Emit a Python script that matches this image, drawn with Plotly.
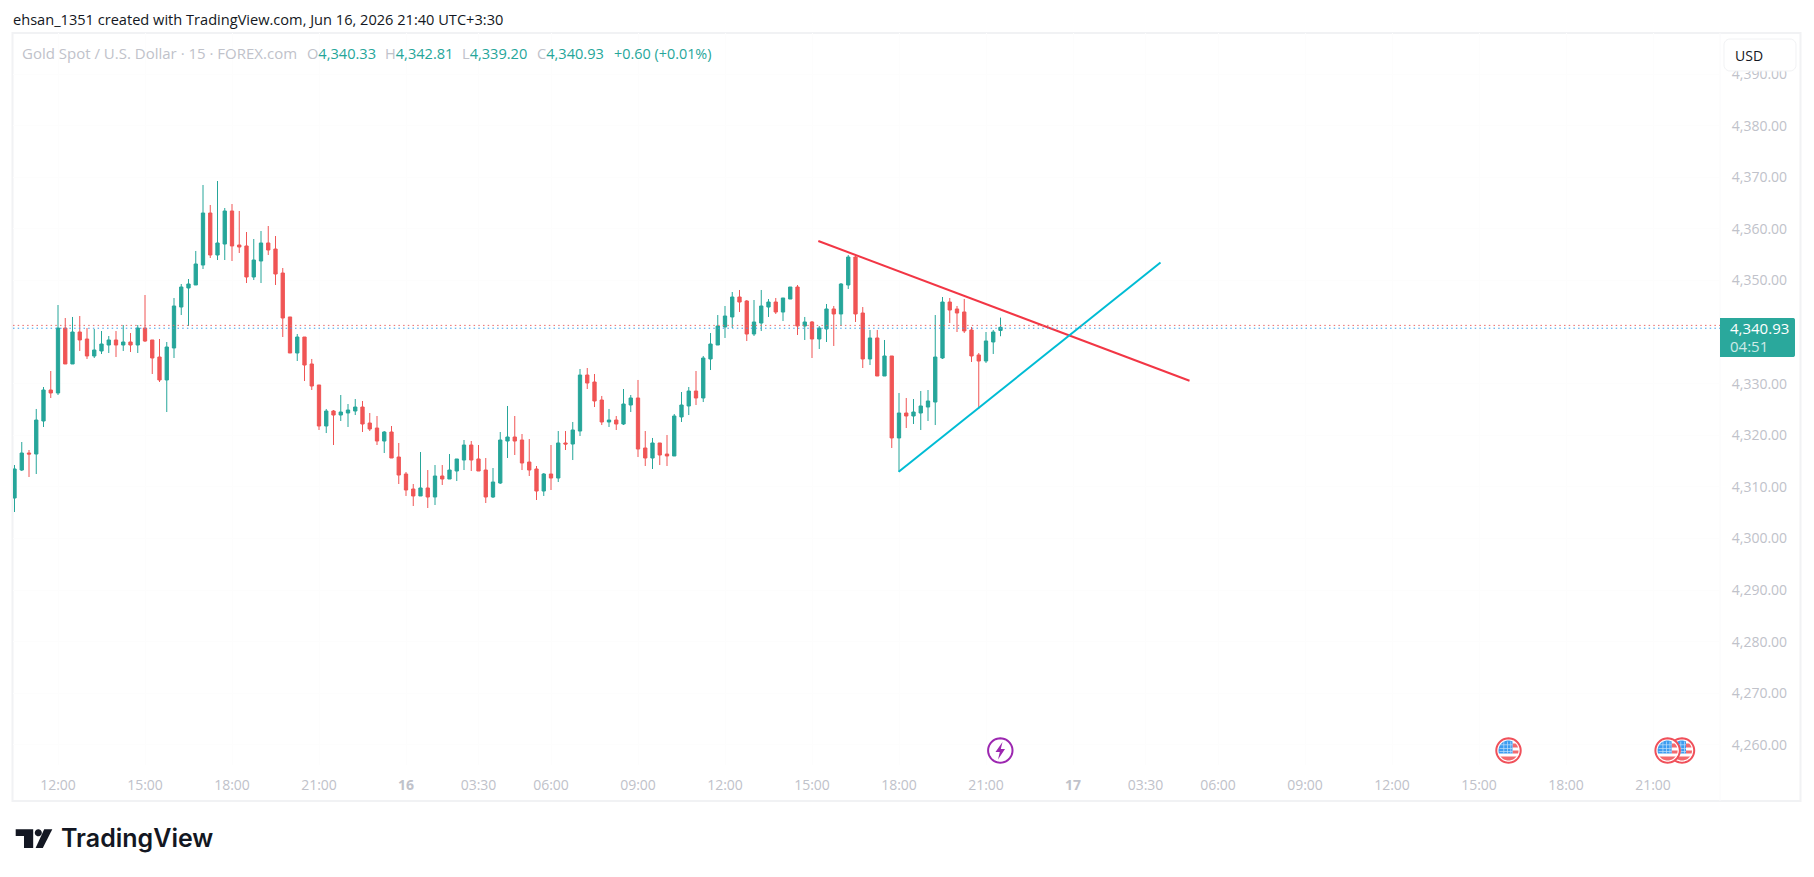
import numpy as np
import plotly.graph_objects as go

# ---------- data ----------
directions = list(
    "GGRGGRGRGR" "RGGGRGRGRR" "RGGGGGGRGG" "RRRGGRRRRG" "RRR"
    "GRGGGRRRGR" "RRRGRGRGGG" "RRRGGGRRRR" "GRGRGGRRRG" "RGGR"
    "RGRRGGGRGG" "GGGRRGGGRG" "GRGRGGRGGR" "RGRGRGRGGG" "GGRRRRRGGG"
)
highs = [4314.24,4318.70,4317.15,4325.10,4329.36,4332.46,4345.25,4342.73,4342.93,4343.12,
         4340.79,4340.60,4340.21,4339.24,4340.21,4341.37,4339.82,4341.37,4347.19,4338.47,
         4338.66,4338.08,4346.61,4349.32,4350.29,4355.72,4368.51,4364.63,4369.28,4364.05,
         4364.82,4363.47,4359.40,4358.04,4359.59,4360.56,4358.62,4352.42,4342.93,4339.63,
         4339.05,4334.79,4329.75,
         4325.10,4324.90,4327.81,4326.06,4327.03,4326.65,4324.32,4323.74,4320.83,4321.80,
         4318.51,4312.89,4310.56,4316.76,4313.27,4314.24,4314.24,4316.37,4315.41,4319.09,
         4318.89,4318.12,4315.60,4313.66,4320.64,4325.68,4323.74,4320.25,4319.28,4314.05,
         4312.69,4318.12,4320.83,4320.83,4322.58,4332.85,4333.04,4331.88,4327.62,4325.10,
         4323.74,4328.97,4327.81,4330.72,
         4320.83,4319.48,4318.51,4320.06,4324.13,4328.39,4329.36,4332.46,4335.37,4339.82,
         4343.31,4345.06,4347.77,4348.16,4346.22,4346.22,4348.16,4346.41,4346.61,4346.61,
         4348.74,4349.13,4342.93,4342.15,4341.18,4345.44,4345.06,4349.51,4354.94,4354.75,
         4344.86,4340.41,4340.41,4338.47,4335.37,4328.20,4327.23,4327.03,4328.58,4328.78,
         4343.31,4346.80,4346.61,4345.06,4346.42,4340.99,4335.95,4340.02,4340.41,4342.81]
body_tops = [4313.47,4316.57,4316.57,4322.96,4328.78,4328.78,4340.79,4340.79,4340.02,4340.02,
             4338.66,4336.53,4337.69,4338.47,4338.47,4338.08,4338.08,4340.79,4340.79,4338.47,
             4335.17,4337.11,4345.06,4348.74,4349.32,4353.20,4363.08,4363.08,4357.27,4363.47,
             4363.47,4356.88,4356.69,4353.97,4357.27,4357.27,4356.10,4351.45,4342.93,4339.05,
             4339.05,4333.82,4329.75,
             4324.71,4324.71,4324.51,4324.90,4325.48,4325.48,4322.38,4321.41,4320.64,4320.64,
             4315.79,4312.50,4309.59,4309.79,4309.79,4312.11,4312.11,4313.27,4315.41,4318.12,
             4318.12,4315.41,4313.27,4310.95,4319.09,4319.67,4319.67,4319.09,4314.82,4313.47,
             4312.50,4312.50,4318.51,4318.51,4321.03,4331.68,4331.68,4330.33,4326.84,4322.96,
             4322.96,4326.06,4327.23,4327.23,
             4317.54,4318.51,4318.51,4316.37,4323.74,4325.87,4328.58,4328.58,4334.98,4337.69,
             4341.18,4343.12,4346.80,4346.80,4346.03,4341.96,4345.06,4345.83,4345.83,4346.61,
             4348.74,4348.74,4341.96,4341.96,4340.79,4344.48,4344.48,4349.32,4354.55,4354.55,
             4343.70,4338.86,4338.86,4335.37,4335.37,4324.32,4324.32,4324.51,4325.68,4326.65,
             4335.17,4345.83,4345.83,4344.48,4343.90,4340.41,4335.57,4338.28,4340.02,4340.93]
body_bots = [4307.85,4313.27,4316.37,4316.37,4322.77,4328.20,4328.20,4333.82,4333.82,4338.47,
             4335.37,4335.37,4336.34,4337.50,4337.50,4337.50,4337.50,4337.50,4338.27,4334.98,
             4330.72,4330.72,4336.92,4344.86,4348.55,4349.13,4353.00,4354.94,4354.94,4357.07,
             4356.69,4356.49,4350.68,4350.68,4353.78,4355.91,4351.26,4342.73,4335.95,4335.95,
             4333.62,4329.55,4321.80,
             4321.80,4323.93,4323.93,4324.32,4324.71,4322.19,4321.22,4318.89,4318.89,4315.60,
             4312.30,4309.40,4308.24,4308.24,4308.04,4308.04,4311.53,4311.53,4313.08,4315.21,
             4315.21,4313.08,4308.04,4308.04,4310.75,4318.89,4318.89,4314.63,4313.27,4309.20,
             4309.20,4311.72,4311.72,4318.31,4318.31,4320.83,4330.13,4326.65,4322.58,4322.58,
             4322.19,4322.19,4325.87,4317.34,
             4315.60,4315.60,4316.18,4315.99,4315.99,4323.55,4325.68,4327.23,4327.23,4334.79,
             4337.50,4340.99,4342.93,4345.83,4339.63,4339.63,4341.76,4344.86,4343.89,4343.89,
             4346.41,4341.18,4341.18,4338.66,4338.66,4340.60,4343.51,4343.51,4349.13,4343.51,
             4334.79,4334.79,4331.49,4331.49,4319.48,4319.48,4323.74,4323.74,4324.32,4325.48,
             4326.45,4334.98,4344.28,4343.70,4340.22,4335.37,4334.40,4334.40,4338.09,4340.33]
lows = [4305.13,4313.08,4311.92,4312.50,4321.61,4327.23,4327.81,4333.82,4333.82,4336.34,
        4334.79,4334.98,4335.75,4335.95,4335.17,4336.34,4336.14,4335.95,4338.08,4331.88,
        4330.33,4324.51,4334.98,4343.31,4341.18,4349.13,4352.23,4354.36,4353.97,4353.97,
        4353.78,4355.33,4349.51,4350.10,4349.51,4354.94,4349.13,4339.05,4335.95,4334.40,
        4330.52,4328.78,4321.03,
        4320.44,4318.12,4322.77,4321.61,4323.93,4320.64,4320.83,4318.12,4316.57,4315.60,
        4310.56,4308.24,4306.30,4308.24,4305.91,4306.49,4310.37,4311.53,4311.14,4313.27,
        4313.08,4313.08,4306.88,4307.85,4310.56,4315.60,4316.18,4313.27,4312.11,4307.46,
        4308.24,4309.40,4310.95,4317.15,4315.21,4319.86,4328.97,4325.48,4321.99,4321.61,
        4321.03,4321.99,4324.51,4315.79,
        4314.05,4313.47,4314.24,4314.05,4315.99,4322.58,4323.93,4325.87,4326.45,4332.65,
        4337.50,4338.86,4340.79,4343.89,4338.27,4339.24,4340.21,4342.93,4343.51,4342.15,
        4346.41,4339.44,4338.47,4334.98,4336.72,4338.08,4337.31,4341.18,4348.35,4341.96,
        4333.04,4333.62,4331.49,4331.49,4317.54,4312.89,4321.41,4322.19,4321.03,4322.77,
        4321.99,4334.79,4341.76,4340.02,4339.83,4334.21,4325.10,4334.02,4335.76,4339.20]

bar_index = list(range(len(highs)))
opens = [b if d == "G" else t for d, t, b in zip(directions, body_tops, body_bots)]
closes = [t if d == "G" else b for d, t, b in zip(directions, body_tops, body_bots)]

time_tick_bars = [6, 18, 30, 42, 54, 64, 74, 86, 98, 110, 122, 134, 146, 156, 166, 178, 190, 202, 214, 226]
time_tick_text = ["12:00", "15:00", "18:00", "21:00", "<b>16</b>", "03:30", "06:00", "09:00", "12:00", "15:00",
                  "18:00", "21:00", "<b>17</b>", "03:30", "06:00", "09:00", "12:00", "15:00", "18:00", "21:00"]
# 4,340.00 sits behind the last-price tag in the reference, so it is not shown
price_ticks = [4260, 4270, 4280, 4290, 4300, 4310, 4320, 4330, 4350, 4360, 4370, 4380, 4390]

resistance_bars, resistance_prices = [110.87, 162.07], [4357.66, 4330.58]
support_bars, support_prices = [121.96, 158.07], [4312.95, 4353.47]
bid_price, ask_price = 4340.75, 4341.30

# ---------- layout helpers (pixels of the 1814x877 canvas) ----------
W, H = 1814, 877
L, R, T, B = 13, 1720, 33, 765
GREEN, RED = "#26a69a", "#f05555"
GREY = "#c0c2ca"
FONT = "Open Sans"


def px(x):
    return (x - L) / (R - L)


def py(y):
    return (B - y) / (B - T)


def poly(points):
    return "M" + " L".join(f"{px(x):.5f},{py(y):.5f}" for x, y in points) + " Z"


def rounded(x0, y0, x1, y1, r, corners=(1, 1, 1, 1)):
    pts = []
    centres = [(x1 - r, y0 + r, -90, corners[1]), (x1 - r, y1 - r, 0, corners[2]),
               (x0 + r, y1 - r, 90, corners[3]), (x0 + r, y0 + r, 180, corners[0])]
    ends = [(x1, y0), (x1, y1), (x0, y1), (x0, y0)]
    for (cx, cy, a, on), e in zip(centres, ends):
        if on:
            for t in np.radians(np.linspace(a, a + 90, 7)):
                pts.append((cx + r * np.cos(t), cy + r * np.sin(t)))
        else:
            pts.append(e)
    return pts


def disc(cx, cy, r):
    return [(cx + r * np.cos(t), cy + r * np.sin(t)) for t in np.linspace(0, 2 * np.pi, 48, endpoint=False)]


def clipped_rect(cx, cy, r, x0, y0, x1, y1):
    pts = []
    for a, b in [((x0, y0), (x1, y0)), ((x1, y0), (x1, y1)), ((x1, y1), (x0, y1)), ((x0, y1), (x0, y0))]:
        for t in np.linspace(0, 1, 14, endpoint=False):
            x = a[0] + (b[0] - a[0]) * t
            y = a[1] + (b[1] - a[1]) * t
            d = float(np.hypot(x, y))
            if d > r:
                x, y = x * r / d, y * r / d
            pts.append((cx + x, cy + y))
    return pts


shapes = []


def add_poly(points, fill, line=None, width=0, layer="above"):
    shapes.append(dict(type="path", path=poly(points), xref="paper", yref="paper", layer=layer,
                       fillcolor=fill, line=dict(color=line or fill, width=width)))


# outer frame and price-scale separator
shapes.append(dict(type="rect", xref="paper", yref="paper", x0=px(12.5), x1=px(1800.5), y0=py(33), y1=py(801),
                   line=dict(color="#f1f2f4", width=2), layer="below"))
shapes.append(dict(type="line", xref="paper", yref="paper", x0=1, x1=1, y0=py(33), y1=py(801),
                   line=dict(color="#fafafb", width=1), layer="below"))

# bid / ask dotted lines
for price, colour in [(ask_price, "#ea6a6a"), (bid_price, "#3f9fe8")]:
    shapes.append(dict(type="line", xref="paper", yref="y", x0=0, x1=1, y0=price, y1=price,
                       line=dict(color=colour, width=1, dash="1.5px,3.2px"), layer="above"))

# last price tag
add_poly(rounded(1720, 318, 1795, 357, 2, corners=(0, 1, 1, 0)), "#2aa89c")
# USD button (hides the top of the 4,390.00 label)
add_poly(rounded(1724, 39, 1796, 71, 6), "#ffffff", "#f1f2f4", 1)


def flag(cx, cy=750.5):
    add_poly(disc(cx, cy, 12.2), "#ffffff", "#f0505a", 2)
    for (x0, y0, x1, y1) in [(4, -7, 11, -3), (4, 0, 11, 3), (-11, 6, 11, 11)]:
        add_poly(clipped_rect(cx, cy, 10, x0, y0, x1, y1), "#f36a6f")
    add_poly(clipped_rect(cx, cy, 10, -11, -10, 4, 3), "#3c9cf0")
    for dx in (-5, -1.5, 2):
        add_poly([(cx + dx, cy - 9), (cx + dx + 0.7, cy - 9), (cx + dx + 0.7, cy + 3), (cx + dx, cy + 3)], "#bfe0fa")
    for dy in (-6, -2.5, 0.5):
        add_poly([(cx - 9, cy + dy), (cx + 4, cy + dy), (cx + 4, cy + dy + 0.7), (cx - 9, cy + dy + 0.7)], "#bfe0fa")


# economic event markers
add_poly(disc(1000.3, 750.5, 12.2), "#ffffff", "#9c27b0", 2)
add_poly([(1002.5, 742), (995.5, 752), (999.8, 752), (998, 759.5), (1005, 749), (1000.8, 749)], "#9c27b0")
flag(1508.5)
flag(1682)
flag(1667.6)

# TradingView logo
add_poly([(15.7, 829.3), (33.2, 829.3), (33.2, 848), (24, 848), (24, 836), (15.7, 836)], "#131722")
add_poly(disc(38.3, 832.8, 3.5), "#131722")
add_poly([(44.2, 829.3), (52.3, 829.3), (42.8, 848), (35.6, 848)], "#131722")

annotations = []


def label(x, y, text, colour, size=14, weight=None, family=FONT):
    annotations.append(dict(x=px(x), y=py(y), xref="paper", yref="paper", text=text, showarrow=False,
                            xanchor="left", yanchor="middle", borderpad=0, borderwidth=0,
                            font=dict(family=family, size=size, color=colour,
                                      **({"weight": weight} if weight else {}))))


label(13, 19, "ehsan_1351 created with TradingView.com, Jun 16, 2026 21:40 UTC+3:30", "#131722", 14.6)
label(22, 53, "Gold Spot / U.S. Dollar · 15 · FOREX.com", GREY, 15)
for x, head, value in [(307, "O", "4,340.33"), (385, "H", "4,342.81"), (462, "L", "4,339.20"), (537, "C", "4,340.93")]:
    label(x, 53, f'<span style="color:{GREY}">{head}</span>{value}', GREEN, 14.6)
label(614, 53, "+0.60 (+0.01%)", GREEN, 14.4)
label(1735, 55, "USD", "#131722", 14)
label(1730, 328, "4,340.93", "#ffffff", 15)
label(1730, 346, "04:51", "#cdeae7", 15)
label(61, 838, "TradingView", "#131722", 25, 600, "Inter")

fig = go.Figure()
fig.add_trace(go.Candlestick(
    x=bar_index, open=opens, high=highs, low=lows, close=closes,
    increasing=dict(line=dict(color=GREEN, width=1), fillcolor=GREEN),
    decreasing=dict(line=dict(color=RED, width=1), fillcolor=RED),
    whiskerwidth=0, showlegend=False, name="XAUUSD",
))
fig.add_trace(go.Scatter(x=resistance_bars, y=resistance_prices, mode="lines", showlegend=False,
                         line=dict(color="#f23645", width=2), hoverinfo="skip"))
fig.add_trace(go.Scatter(x=support_bars, y=support_prices, mode="lines", showlegend=False,
                         line=dict(color="#00bcd4", width=2), hoverinfo="skip"))

fig.update_layout(
    width=W, height=H, autosize=False,
    margin=dict(l=L, r=W - R, t=T, b=H - B),
    paper_bgcolor="#ffffff", plot_bgcolor="#ffffff",
    showlegend=False, boxgap=0.35,
    shapes=shapes, annotations=annotations,
    xaxis=dict(range=[(L - 14.5) / 7.25, (R - 14.5) / 7.25], rangeslider=dict(visible=False),
               tickmode="array", tickvals=time_tick_bars, ticktext=time_tick_text,
               tickfont=dict(family=FONT, size=14, color=GREY), ticks="outside", ticklen=7,
               tickcolor="rgba(0,0,0,0)", showgrid=True, gridcolor="#fdfdfd", gridwidth=1,
               showline=False, zeroline=False),
    yaxis=dict(range=[4380 - (B - 125.7) / 5.16, 4380 + (125.7 - T) / 5.16], side="right",
               tickmode="array", tickvals=price_ticks, tickformat=",.2f",
               tickfont=dict(family=FONT, size=14, color=GREY), ticks="outside", ticklen=8,
               tickcolor="rgba(0,0,0,0)", showgrid=True, gridcolor="#fdfdfd", gridwidth=1,
               showline=False, zeroline=False),
)

fig.write_html("out.html", config=dict(displayModeBar=False),
               post_script="document.body.style.margin='0';document.body.style.overflow='hidden';")
